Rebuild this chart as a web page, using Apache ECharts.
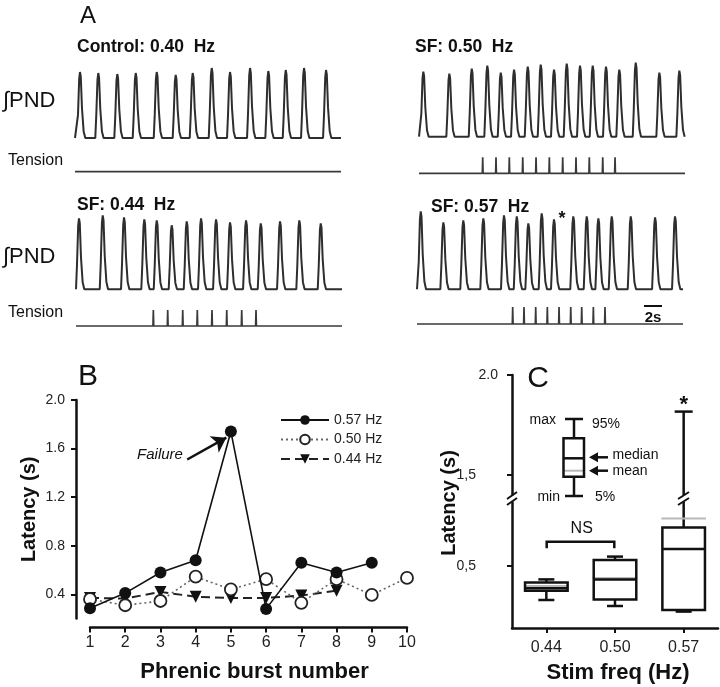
<!DOCTYPE html>
<html><head><meta charset="utf-8">
<script src="https://cdn.jsdelivr.net/npm/echarts@6/dist/echarts.min.js"></script>
<style>html,body{margin:0;padding:0;background:#fff}#c{width:720px;height:687px}</style>
</head><body><div id="c"></div>
<script>
// ---------- Panel A : burst peak times (s) and amplitudes (a.u.), stimulus (tension) times ----------
const ctrlBurstT = [0.75, 3.5, 6.36, 9.13, 12.29, 15.14, 17.7, 20.56, 23.31, 26.32, 29.07, 31.69, 34.44, 37.75];
const ctrlBurstA = [66, 65, 64, 65, 66, 63, 65, 70, 66, 70, 67, 68, 70, 68];
const ctrlStimT = [];
const ctrlStimA = [];

const sf50BurstT = [0.65, 4.56, 7.93, 10.27, 12.29, 14.29, 16.35, 18.3, 20.3, 22.21, 24.21, 26.12, 28.12, 30.12, 32.59, 36.14, 39.15];
const sf50BurstA = [65, 63, 68, 71, 64, 67, 70, 72, 67, 73, 71, 71, 70, 67, 74, 64, 66];
const sf50StimT = [9.58, 11.58, 13.58, 15.6, 17.6, 19.6, 21.61, 23.61, 25.61, 27.63, 29.48];
const sf50StimA = [16, 16, 16, 16, 16, 16, 16, 16, 16, 16, 16];

const sf44BurstT = [0.45, 4.02, 7.22, 10.27, 12.14, 14.39, 16.65, 18.8, 21.06, 23.16, 25.57, 27.78, 30.68, 33.58, 36.8];
const sf44BurstA = [71, 74, 72, 70, 69, 64, 68, 71, 70, 67, 69, 66, 68, 69, 66];
const sf44StimT = [11.63, 13.79, 16.05, 18.24, 20.45, 22.67, 24.92, 27.07];
const sf44StimA = [16, 16, 16, 16, 16, 16, 16, 16];

const sf57BurstT = [0.56, 3.96, 6.96, 9.97, 13.08, 15.0, 16.74, 18.75, 20.6, 23.5, 25.52, 27.27, 29.28, 32.14, 35.8, 38.8];
const sf57BurstA = [78, 67, 69, 71, 74, 73, 66, 76, 70, 73, 73, 71, 73, 73, 72, 73];
const sf57StimT = [14.39, 16.09, 17.85, 19.6, 21.36, 23.12, 24.77, 26.52, 28.27];
const sf57StimA = [17, 17, 17, 17, 17, 17, 17, 17, 17];

// ---------- Panel B : latency per phrenic burst ----------
const burstNumbers = [1, 2, 3, 4, 5, 6, 7, 8, 9, 10];
const lat057 = [0.285, 0.41, 0.58, 0.68, 1.74, 0.28, 0.66, 0.58, 0.66];
const lat050 = [0.36, 0.31, 0.345, 0.545, 0.44, 0.525, 0.33, 0.525, 0.395, 0.535];
const lat044 = [0.37, 0.365, 0.42, 0.38, 0.37, 0.37, 0.39, 0.43];
const latTicks = [0.4, 0.8, 1.2, 1.6, 2.0];

// ---------- Panel C : box plots ----------
const stimCats = ['0.44', '0.50', '0.57'];
const boxLow  = [0.33, 0.30, 0.272];
const boxQ1   = [0.376, 0.333, 0.28];
const boxMed  = [0.389, 0.433, 0.585];
const boxQ3   = [0.417, 0.53, 0.693];
const boxHigh = [0.433, 0.547, 1.817];
const boxMean = [0.40, 0.44, 0.738];
const cUpperTicks = [1.5, 2.0];
const cLowerTicks = [0.5];

// ---------- helpers ----------
const FF = 'Liberation Sans, Arial, sans-serif';
const FFN = 'Liberation Sans Narrow, Liberation Sans, Arial, sans-serif';
const INK = '#111';
function burstWave(times, amps) {
  const d = [[0, 0]];
  times.forEach((t, i) => {
    const a = amps[i];
    d.push([t - 0.45, 0], [t - 0.3, 0.35 * a], [t - 0.12, 0.9 * a], [t, a], [t + 0.12, 0.93 * a],
           [t + 0.3, 0.45 * a], [t + 0.55, 0.1 * a], [t + 0.8, 0]);
  });
  d.push([40, 0]);
  return d;
}
function spikeWave(times, amps) {
  const d = [[0, 0]];
  times.forEach((t, i) => { d.push([t - 0.06, 0], [t, amps[i]], [t + 0.06, 0]); });
  d.push([40, 0]);
  return d;
}

const panels = [
  { bt: ctrlBurstT, ba: ctrlBurstA, st: ctrlStimT, sa: ctrlStimA, left: 75, pnd: 138, ten: 171.7 },
  { bt: sf50BurstT, ba: sf50BurstA, st: sf50StimT, sa: sf50StimA, left: 419, pnd: 136.7, ten: 173.3 },
  { bt: sf44BurstT, ba: sf44BurstA, st: sf44StimT, sa: sf44StimA, left: 76, pnd: 289.3, ten: 326 },
  { bt: sf57BurstT, ba: sf57BurstA, st: sf57StimT, sa: sf57StimA, left: 417, pnd: 289.3, ten: 324 }
];

const grid = [], xAxis = [], yAxis = [], series = [];
panels.forEach((p, k) => {
  const gi = grid.length;
  grid.push({ left: p.left, width: 266, top: p.pnd - 80, height: 80, outerBoundsMode: 'none' });
  grid.push({ left: p.left, width: 266, top: p.ten - 20, height: 20, outerBoundsMode: 'none' });
  xAxis.push({ gridIndex: gi, type: 'value', min: 0, max: 40, show: false });
  xAxis.push({ gridIndex: gi + 1, type: 'value', min: 0, max: 40, show: false });
  yAxis.push({ gridIndex: gi, type: 'value', min: 0, max: 80, show: false });
  yAxis.push({ gridIndex: gi + 1, type: 'value', min: 0, max: 20, show: false });
  series.push({ type: 'line', xAxisIndex: gi, yAxisIndex: gi, data: burstWave(p.bt, p.ba), showSymbol: false,
    lineStyle: { color: '#2e2e2e', width: 2 }, silent: true, clip: false });
  series.push({ type: 'line', xAxisIndex: gi + 1, yAxisIndex: gi + 1, data: spikeWave(p.st, p.sa), showSymbol: false,
    lineStyle: { color: '#3a3a3a', width: 1.7 }, silent: true, clip: false });
});

// Panel B grid (index 8)
grid.push({ left: 90, width: 317, top: 400, height: 218.6, outerBoundsMode: 'none' });
xAxis.push({ gridIndex: 8, type: 'value', min: 1, max: 10, interval: 1, offset: 9,
  axisLine: { show: true, lineStyle: { color: INK, width: 2.5 } },
  axisTick: { show: true, length: 5, lineStyle: { color: INK, width: 2 } },
  axisLabel: { fontSize: 16, color: '#222', margin: 7, fontFamily: FF },
  splitLine: { show: false },
  name: 'Phrenic burst number', nameLocation: 'middle', nameGap: 33,
  nameTextStyle: { fontSize: 22, fontWeight: 'bold', color: INK, fontFamily: FF, padding: [0, 0, 0, 12] } });
yAxis.push({ gridIndex: 8, type: 'value', min: 0.2, max: 2.0, offset: 14,
  axisLine: { show: true, lineStyle: { color: INK, width: 2.5 } },
  axisTick: { show: true, length: 5, customValues: latTicks, lineStyle: { color: INK, width: 2 } },
  axisLabel: { customValues: latTicks, formatter: v => v.toFixed(1), fontSize: 14, color: '#222', margin: 11, fontFamily: FF },
  splitLine: { show: false },
  name: 'Latency (s)', nameLocation: 'middle', nameGap: 37, nameRotate: 90,
  nameTextStyle: { fontSize: 20, fontWeight: 'bold', color: INK, fontFamily: FF } });

const xyB = xs => xs.map((v, i) => [burstNumbers[i], v]);
series.push({ name: '0.57 Hz', type: 'line', xAxisIndex: 8, yAxisIndex: 8, data: xyB(lat057), z: 5,
  symbol: 'circle', symbolSize: 12, itemStyle: { color: '#111' }, lineStyle: { color: '#111', width: 1.6 }, clip: false,
  markLine: { silent: true, symbol: ['none', 'arrow'], symbolSize: 14,
    itemStyle: { color: '#111' },
    lineStyle: { type: 'solid', color: '#111', width: 2.5 }, label: { show: false },
    data: [[{ coord: [3.76, 1.51] }, { coord: [4.87, 1.69] }]] } });
series.push({ name: '0.50 Hz', type: 'line', xAxisIndex: 8, yAxisIndex: 8, data: xyB(lat050), z: 4,
  symbol: 'circle', symbolSize: 12, itemStyle: { color: '#fff', borderColor: '#222', borderWidth: 1.8 },
  lineStyle: { color: '#666', width: 1.6, type: [2, 3] }, clip: false });
series.push({ name: '0.44 Hz', type: 'line', xAxisIndex: 8, yAxisIndex: 8, data: xyB(lat044), z: 3,
  symbol: 'triangle', symbolRotate: 180, symbolSize: 12, itemStyle: { color: '#111' },
  lineStyle: { color: '#222', width: 2, type: [9, 5] }, clip: false });

// Panel C grids (9 upper, 10 lower)
const cLowerMin = 0.19, cLowerMax = 0.82, cUpperMin = 1.4, cUpperMax = 2.0;
grid.push({ left: 512, right: 2, top: 375, height: (cUpperMax - cUpperMin) * 200, outerBoundsMode: 'none' });
grid.push({ left: 512, right: 2, top: 628 - (cLowerMax - cLowerMin) * 200, height: (cLowerMax - cLowerMin) * 200, outerBoundsMode: 'none' });
xAxis.push({ gridIndex: 9, type: 'category', data: stimCats, show: false });
xAxis.push({ gridIndex: 10, type: 'category', data: stimCats,
  axisLine: { show: true, lineStyle: { color: INK, width: 2.5 } },
  axisTick: { show: true, alignWithLabel: true, length: 5, lineStyle: { color: INK, width: 2 } },
  axisLabel: { fontSize: 16, color: '#222', margin: 12, fontFamily: FF },
  name: 'Stim freq (Hz)', nameLocation: 'middle', nameGap: 34,
  nameTextStyle: { fontSize: 22, fontWeight: 'bold', color: INK, fontFamily: FF, padding: [0, 0, 0, 6] } });
const cFmt = v => (v === 2 ? '2.0' : '{w|' + v.toFixed(1).replace('.', ',') + '}');
const cRich = { w: { fontSize: 14, padding: [0, 22, 0, 0], fontFamily: FFN, color: '#222' } };
yAxis.push({ gridIndex: 9, type: 'value', min: cUpperMin, max: cUpperMax,
  axisLine: { show: true, lineStyle: { color: INK, width: 2.5 } },
  axisTick: { show: true, length: 5, customValues: cUpperTicks, lineStyle: { color: INK, width: 2 } },
  axisLabel: { customValues: cUpperTicks, formatter: cFmt, fontSize: 14, color: '#222', margin: 14, fontFamily: FF, rich: cRich },
  splitLine: { show: false } });
yAxis.push({ gridIndex: 10, type: 'value', min: cLowerMin, max: cLowerMax,
  axisLine: { show: true, lineStyle: { color: INK, width: 2.5 } },
  axisTick: { show: true, length: 5, customValues: cLowerTicks, lineStyle: { color: INK, width: 2 } },
  axisLabel: { customValues: cLowerTicks, formatter: cFmt, fontSize: 14, color: '#222', margin: 14, fontFamily: FF, rich: cRich },
  splitLine: { show: false } });

const blk = { stroke: INK, lineWidth: 2.5 };
const ln = (x1, y1, x2, y2, st) => ({ type: 'line', shape: { x1, y1, x2, y2 }, style: st || blk });
function renderLowerBox(params, api) {
  const i = api.value(0);
  const cs = params.coordSys;
  const cx = api.coord([i, 0.5])[0];
  const bw = api.size([1, 0])[0] * 0.62;
  const Y = v => api.coord([i, v])[1];
  const lo = api.value(1), q1 = api.value(2), md = api.value(3), q3 = api.value(4), hi = api.value(5), mn = api.value(6);
  const kids = [];
  const yHi = hi > cLowerMax ? cs.y : Y(hi);
  kids.push(ln(cx, yHi, cx, Y(q3)));
  if (hi <= cLowerMax) kids.push(ln(cx - 8, yHi, cx + 8, yHi));
  kids.push(ln(cx, Y(q1), cx, Y(lo)));
  kids.push(ln(cx - 8, Y(lo), cx + 8, Y(lo)));
  kids.push(ln(cx - bw / 2 - 1, Y(mn), cx + bw / 2 + 1, Y(mn), { stroke: '#b8b8b8', lineWidth: 2 }));
  kids.push({ type: 'rect', shape: { x: cx - bw / 2, y: Y(q3), width: bw, height: Y(q1) - Y(q3) },
    style: { stroke: INK, lineWidth: 2.5, fill: 'none' } });
  kids.push(ln(cx - bw / 2, Y(md), cx + bw / 2, Y(md)));
  return { type: 'group', children: kids };
}
function renderUpperWhisker(params, api) {
  const i = api.value(0), hi = api.value(1);
  const cs = params.coordSys;
  const p = api.coord([i, hi]);
  return { type: 'group', children: [ln(p[0], cs.y + cs.height, p[0], p[1]), ln(p[0] - 9, p[1], p[0] + 9, p[1])] };
}
const boxRows = stimCats.map((c, i) => [i, boxLow[i], boxQ1[i], boxMed[i], boxQ3[i], boxHigh[i], boxMean[i]]);
const upperRows = stimCats.map((c, i) => [i, boxHigh[i]]).filter(r => r[1] > cLowerMax);
series.push({ type: 'custom', xAxisIndex: 10, yAxisIndex: 10, data: boxRows, renderItem: renderLowerBox,
  encode: { x: 0, y: [1, 2, 3, 4, 5, 6] }, clip: false, silent: true });
series.push({ type: 'custom', xAxisIndex: 9, yAxisIndex: 9, data: upperRows, renderItem: renderUpperWhisker,
  encode: { x: 0, y: 1 }, clip: false, silent: true });

// ---------- annotations ----------
const txt = (x, y, text, o, extra) => Object.assign({ type: 'text', x, y, silent: true, z: 100,
  style: Object.assign({ text, fontFamily: FF, fontSize: 14, fill: INK, align: 'left', verticalAlign: 'middle' }, o || {}) }, extra || {});
const gline = (x1, y1, x2, y2, w, c) => ({ type: 'line', silent: true, z: 100, shape: { x1, y1, x2, y2 }, style: { stroke: c || INK, lineWidth: w || 2.5 } });
const graphic = [
  txt(88, 16, 'A', { fontSize: 24, align: 'center' }),
  txt(88, 377, 'B', { fontSize: 30, align: 'center' }),
  txt(538, 379, 'C', { fontSize: 30, align: 'center' }),
  txt(77, 47, 'Control: 0.40  Hz', { fontSize: 17.5, fontWeight: 'bold' }),
  txt(415, 47, 'SF: 0.50  Hz', { fontSize: 17.5, fontWeight: 'bold' }),
  txt(77, 205, 'SF: 0.44  Hz', { fontSize: 17.5, fontWeight: 'bold' }),
  txt(431, 207, 'SF: 0.57  Hz', { fontSize: 17.5, fontWeight: 'bold' }),
  txt(3, 101, '∫PND', { fontSize: 22 }),
  txt(3, 257, '∫PND', { fontSize: 22 }),
  txt(8, 161, 'Tension', { fontSize: 16 }),
  txt(8, 313, 'Tension', { fontSize: 16 }),
  txt(562, 219, '*', { fontSize: 18, fontWeight: 'bold', align: 'center' }),
  gline(644, 306, 662, 306, 2),
  txt(653, 318, '2s', { fontSize: 15, fontWeight: 'bold', align: 'center' }),
  txt(160, 455, 'Failure', { fontSize: 15, fontStyle: 'italic', align: 'center' }),
  txt(449, 503, 'Latency (s)', { fontSize: 20, fontWeight: 'bold', align: 'center' }, { rotation: Math.PI / 2 }),
  // C: NS bracket
  { type: 'polyline', silent: true, z: 100, shape: { points: [[546.7, 548.3], [546.7, 541.7], [614.3, 541.7], [614.3, 548.3]] },
    style: { stroke: INK, lineWidth: 2.5, fill: 'none' } },
  txt(581.7, 528.5, 'NS', { fontSize: 16, align: 'center' }),
  txt(683.7, 405, '*', { fontSize: 22, fontWeight: 'bold', align: 'center' }),
  // axis breaks
  { type: 'rect', silent: true, z: 99, shape: { x: 505, y: 495.5, width: 14, height: 6 }, style: { fill: '#fff' } },
  gline(507, 499, 517, 492, 2),
  gline(507, 505, 517, 498, 2),
  { type: 'rect', silent: true, z: 99, shape: { x: 677, y: 495.5, width: 14, height: 6 }, style: { fill: '#fff' } },
  gline(678, 499, 689, 492, 2),
  gline(678, 505, 689, 498, 2),
  // C inset key
  gline(574, 419, 574, 438.3), gline(574, 476.7, 574, 496),
  gline(565, 419, 583, 419), gline(565, 496, 583, 496),
  gline(564, 470.7, 583.5, 470.7, 2, '#b8b8b8'),
  { type: 'rect', silent: true, z: 100, shape: { x: 563.5, y: 438.3, width: 20.5, height: 38.4 }, style: { stroke: INK, lineWidth: 2.5, fill: 'none' } },
  gline(563.5, 458.3, 584, 458.3),
  txt(556, 420, 'max', { align: 'right' }),
  txt(592, 424, '95%'),
  txt(560, 497, 'min', { align: 'right' }),
  txt(595, 497, '5%'),
  txt(612.5, 455, 'median'),
  txt(612.5, 471.5, 'mean'),
  gline(597, 457.3, 608, 457.3), gline(597, 470.7, 608, 470.7),
  { type: 'polygon', silent: true, z: 100, shape: { points: [[589, 457.3], [598, 452.3], [598, 462.3]] }, style: { fill: INK } },
  { type: 'polygon', silent: true, z: 100, shape: { points: [[589, 470.7], [598, 465.7], [598, 475.7]] }, style: { fill: INK } }
];

const chart = echarts.init(document.getElementById('c'), null, { renderer: 'canvas' });
chart.setOption({
  animation: false,
  backgroundColor: '#fff',
  textStyle: { fontFamily: FF },
  legend: { data: ['0.57 Hz', '0.50 Hz', '0.44 Hz'], orient: 'vertical', left: 275, top: 408, itemWidth: 48, itemHeight: 12,
    itemGap: 5.5, selectedMode: false, textStyle: { fontSize: 14, color: '#222', fontFamily: FF } },
  grid, xAxis, yAxis, series, graphic
});
</script></body></html>
